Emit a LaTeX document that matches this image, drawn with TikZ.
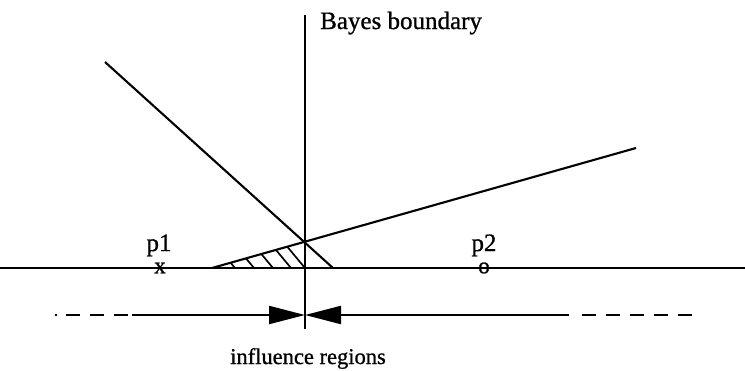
\documentclass[tikz,border=0pt]{standalone}
\usepackage{fontspec}
\setmainfont{Liberation Serif}
\newfontfamily\scanfont[FakeBold=0.9]{Liberation Serif}
\usetikzlibrary{arrows.meta}
\tikzset{
  mainline/.style={line width=2.1pt},
  hatchline/.style={line width=1.7pt},
  dashpart/.style={line width=2.2pt, dash pattern=on 14pt off 10pt},
  lbl/.style={inner sep=0pt, font=\scanfont\fontsize{25}{30}\selectfont},
  ptmark/.style={inner sep=0pt, font=\scanfont\fontsize{23}{26}\selectfont},
  bowtie/.style={line width=2.1pt, -{Triangle[length=36pt,width=18pt]}}
}
\begin{document}
\begin{tikzpicture}[x=1pt,y=-1pt]
\useasboundingbox (0,0) rectangle (745,370);
% coordinates
\coordinate (vtop) at (305,15);
\coordinate (vbot) at (305,329);
\coordinate (axL) at (0,268);
\coordinate (axR) at (745,268);
\coordinate (l1a) at (105,62);
\coordinate (l1b) at (333,268);
\coordinate (l2a) at (212,268);
\coordinate (l2b) at (636,148);
\coordinate (mid) at (305,315);
\coordinate (aL) at (132,315);
\coordinate (aR) at (569,315);
\coordinate (dLa) at (66,315);
\coordinate (dLb) at (132,315);
\coordinate (dRa) at (582,315);
\coordinate (dRb) at (700,315);
% main lines
\draw[mainline] (vtop) -- (vbot);
\draw[mainline] (axL) -- (axR);
\draw[mainline] (l1a) -- (l1b);
\draw[mainline] (l2a) -- (l2b);
% hatching
\begin{scope}
  \clip (212,268) -- (305,241.8) -- (305,268) -- cycle;
  \foreach \xb in {235,254,273,291,305}
    \draw[hatchline] (\xb,268) -- ++(-40,-48);
\end{scope}
% influence regions arrows
\draw[bowtie] (aL) -- (mid);
\draw[bowtie] (aR) -- (mid);
\draw[dashpart] (dLa) -- (dLb);
\fill (56,315) circle (1.3pt);
\draw[dashpart] (dRa) -- (dRb);
% labels
\node[lbl, anchor=base west] (bayes) at (320,29) {Bayes boundary};
\node[lbl, anchor=base, font=\scanfont\fontsize{22.5}{27}\selectfont] (infl) at (308,364) {influence regions};
\node[lbl, anchor=base] (p1) at (159,251) {p1};
\node[lbl, anchor=base] (p2) at (484,251) {p2};
\node[ptmark] (x1) at (160,268) {x};
\node[ptmark] (o2) at (484,268) {o};
\end{tikzpicture}
\end{document}
